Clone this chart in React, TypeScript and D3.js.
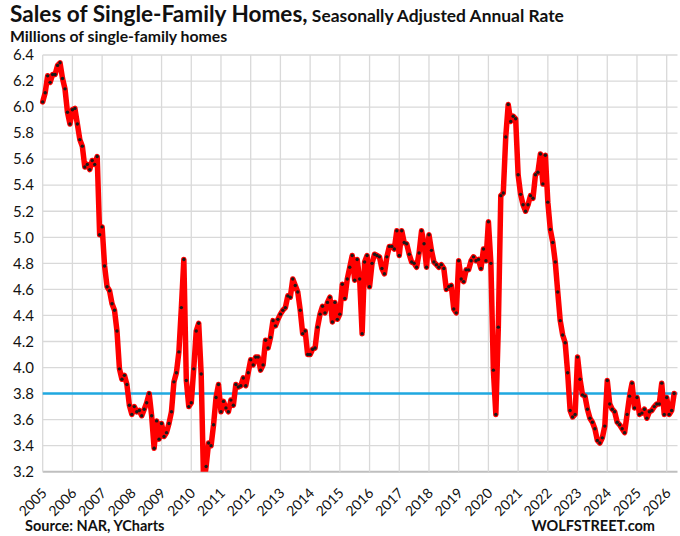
import * as d3 from 'd3'

// monthly sales, seasonally adjusted annual rate, millions
const s2005 = [6.04, 6.11, 6.24, 6.19, 6.25, 6.25, 6.32, 6.34, 6.22, 6.14, 5.96, 5.87]
const s2006 = [5.98, 5.99, 5.87, 5.75, 5.70, 5.54, 5.56, 5.52, 5.59, 5.56, 5.62, 5.02]
const s2007 = [5.08, 4.78, 4.62, 4.59, 4.49, 4.44, 4.28, 3.99, 3.91, 3.94, 3.87, 3.71]
const s2008 = [3.64, 3.70, 3.66, 3.67, 3.63, 3.68, 3.73, 3.80, 3.63, 3.38, 3.59, 3.45]
const s2009 = [3.57, 3.47, 3.50, 3.57, 3.66, 3.89, 3.96, 4.12, 4.46, 4.83, 3.90, 3.70]
const s2010 = [3.73, 3.99, 4.28, 4.34, 3.95, 3.10, 3.24, 3.42, 3.40, 3.56, 3.77, 3.87]
const s2011 = [3.66, 3.74, 3.69, 3.66, 3.75, 3.71, 3.87, 3.85, 3.86, 3.92, 3.86, 3.96]
const s2012 = [4.06, 4.02, 4.08, 4.08, 3.98, 4.02, 4.21, 4.15, 4.23, 4.36, 4.32, 4.37]
const s2013 = [4.41, 4.44, 4.46, 4.55, 4.54, 4.68, 4.63, 4.58, 4.44, 4.26, 4.28, 4.10]
const s2014 = [4.10, 4.14, 4.15, 4.31, 4.41, 4.47, 4.42, 4.50, 4.54, 4.35, 4.50, 4.37]
const s2015 = [4.41, 4.64, 4.53, 4.68, 4.77, 4.86, 4.67, 4.83, 4.68, 4.26, 4.81, 4.86]
const s2016 = [4.62, 4.80, 4.87, 4.86, 4.85, 4.76, 4.72, 4.85, 4.93, 4.93, 4.91, 5.05]
const s2017 = [4.86, 5.05, 4.96, 4.95, 4.87, 4.81, 4.80, 4.77, 4.88, 5.05, 4.95, 4.77]
const s2018 = [5.02, 4.90, 4.81, 4.79, 4.77, 4.79, 4.76, 4.60, 4.62, 4.63, 4.45, 4.42]
const s2019 = [4.82, 4.68, 4.66, 4.75, 4.75, 4.82, 4.85, 4.82, 4.83, 4.76, 4.91, 4.82]
const s2020 = [5.12, 4.80, 3.98, 3.64, 4.31, 5.32, 5.34, 5.77, 6.02, 5.89, 5.93, 5.91]
const s2021 = [5.48, 5.33, 5.25, 5.20, 5.25, 5.32, 5.30, 5.48, 5.50, 5.64, 5.41, 5.63]
const s2022 = [5.27, 5.06, 4.96, 4.81, 4.58, 4.36, 4.25, 4.19, 3.96, 3.67, 3.62, 3.64]
const s2023 = [4.08, 3.91, 3.79, 3.78, 3.68, 3.61, 3.58, 3.53, 3.44, 3.42, 3.46, 3.55]
const s2024 = [3.90, 3.72, 3.68, 3.66, 3.58, 3.56, 3.53, 3.50, 3.64, 3.78, 3.88, 3.69]
const s2025 = [3.77, 3.64, 3.65, 3.68, 3.61, 3.66, 3.67, 3.70, 3.72, 3.72, 3.88, 3.64]
const s2026 = [3.77, 3.64, 3.67, 3.80]

const sales = [
  ...s2005, ...s2006, ...s2007, ...s2008, ...s2009, ...s2010, ...s2011, ...s2012,
  ...s2013, ...s2014, ...s2015, ...s2016, ...s2017, ...s2018, ...s2019, ...s2020,
  ...s2021, ...s2022, ...s2023, ...s2024, ...s2025, ...s2026,
]
const firstYear = 2005
const yearTicks = d3.range(2005, 2027)
const valueTicks = [3.2, 3.4, 3.6, 3.8, 4.0, 4.2, 4.4, 4.6, 4.8, 5.0, 5.2, 5.4, 5.6, 5.8, 6.0, 6.2, 6.4]
const refLevel = 3.8

const W = 680
const H = 536
const PLOT = { left: 42.7, right: 677.5, top: 55, bottom: 471.7 }
const FONT = 'Lato, "Open Sans", sans-serif'

const App = () => {
  const x = d3.scaleLinear().domain([2005, 2026]).range([PLOT.left, 666.7])
  const y = d3.scaleLinear().domain([3.2, 6.4]).range([PLOT.bottom, PLOT.top])

  const pts = sales.map((v, i) => ({ t: firstYear + i / 12, v }))
  const line = d3.line<{ t: number, v: number }>()
    .x(d => x(d.t))
    .y(d => y(d.v))

  return (
    <svg width={W} height={H} style={{ position: 'fixed', left: 0, top: 0, background: '#fff' }}
      fontFamily={FONT}>
      <rect width={W} height={H} fill="#fff" />
      <defs>
        <clipPath id="plot-clip">
          <rect x={PLOT.left - 5} y={PLOT.top - 10} width={PLOT.right - PLOT.left + 10} height={PLOT.bottom - PLOT.top + 10} />
        </clipPath>
      </defs>

      {/* titles */}
      <text x={10} y={22} fontWeight="bold" fill="#111">
        <tspan fontSize={22.6}>Sales of Single-Family Homes,</tspan>
        <tspan fontSize={17.4}> Seasonally Adjusted Annual Rate</tspan>
      </text>
      <text x={10} y={42} fontWeight="bold" fontSize={15.8} fill="#111">Millions of single-family homes</text>

      {/* grid */}
      {valueTicks.map(v => (
        <line key={'h' + v} x1={PLOT.left} x2={PLOT.right} y1={y(v)} y2={y(v)}
          stroke={v === 3.2 ? '#bfbfbf' : '#d9d9d9'} strokeWidth={v === 3.2 ? 2 : 1.3} />
      ))}
      {yearTicks.map(t => (
        <line key={'v' + t} x1={x(t)} x2={x(t)} y1={PLOT.top} y2={PLOT.bottom}
          stroke="#d9d9d9" strokeWidth={1.3} />
      ))}

      {/* y labels */}
      {valueTicks.map(v => (
        <text key={'yl' + v} x={34} y={y(v)} dy="0.35em" textAnchor="end" fontSize={15} fill="#111">
          {v.toFixed(1)}
        </text>
      ))}

      {/* x labels */}
      {yearTicks.map(t => (
        <text key={'xl' + t} transform={`translate(${x(t) + 5},${494}) rotate(-45)`}
          textAnchor="end" fontSize={14} fill="#111">{t}</text>
      ))}

      {/* reference level */}
      <line x1={PLOT.left} x2={PLOT.right} y1={y(refLevel)} y2={y(refLevel)} stroke="#1fa8e0" strokeWidth={2.5} />

      {/* series */}
      <g clipPath="url(#plot-clip)">
        <path d={line(pts) ?? ''} fill="none" stroke="#ff0000" strokeWidth={5.5}
          strokeLinejoin="round" strokeLinecap="round" />
        {pts.map((d, i) => (
          <circle key={i} cx={x(d.t)} cy={y(d.v)} r={1.7} fill="#1a1a1a" />
        ))}
      </g>

      {/* footer */}
      <text x={25} y={531} fontWeight="bold" fontSize={14.5} fill="#111">Source: NAR, YCharts</text>
      <text x={655} y={531} fontWeight="bold" fontSize={14.5} textAnchor="end" fill="#111">WOLFSTREET.com</text>
    </svg>
  )
}

export default App
